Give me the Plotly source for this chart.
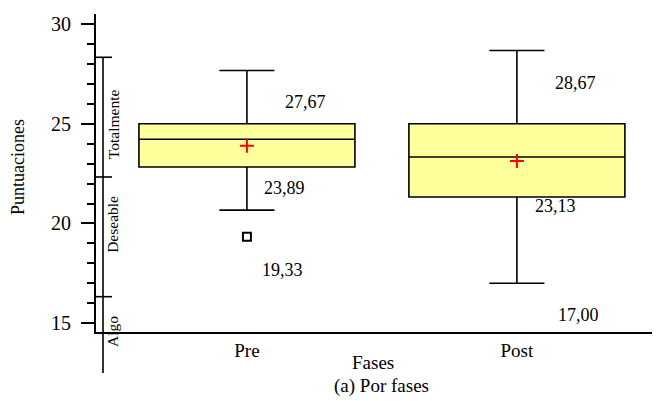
import plotly.graph_objects as go

# ---- data ----
fases = ["Pre", "Post"]
q1 = [22.83, 21.33]
mediana = [24.22, 23.33]
q3 = [25.00, 25.00]
bigote_inf = [20.67, 17.00]
bigote_sup = [27.67, 28.67]
media = [23.89, 23.13]
atipico_fase = ["Pre"]
atipico_valor = [19.33]

escala_nombres = ["Totalmente", "Deseable", "Algo"]
escala_limites = [28.33, 22.33, 16.33, 12.5]

y_ticks = [15, 20, 25, 30]

# ---- layout geometry (page body has an 8px default margin) ----
OFF = 8
W, H = 660 - OFF, 401 - OFF
ML, MR, MT, MB = 96 - OFF, 0, 14 - OFF, 69
YMIN, YMAX = 14.56, 30.50
PLOT_H = H - MT - MB
PLOT_W = W - ML - MR
FONT = "'Liberation Serif', Tinos, 'Times New Roman', 'Nimbus Roman', 'DejaVu Serif', serif"


def ypaper(v):
    return (v - YMIN) / (YMAX - YMIN)


def xpaper(px):
    # px in window coordinates
    return (px - OFF - ML) / PLOT_W


def ypix(py):
    # py in window coordinates -> paper fraction
    return (H - MB - (py - OFF)) / PLOT_H


def fmt(v):
    return f"{v:.2f}".replace(".", ",")


fig = go.Figure()

fig.add_trace(go.Box(
    x=fases, q1=q1, median=mediana, q3=q3,
    lowerfence=bigote_inf, upperfence=bigote_sup,
    width=0.8, whiskerwidth=0.255,
    fillcolor="#FFFF9C", line=dict(color="black", width=1.6),
    boxpoints=False, showlegend=False, hoverinfo="skip",
))

fig.add_trace(go.Scatter(
    x=fases, y=media, mode="markers",
    marker=dict(symbol="cross-thin", size=10, line=dict(color="red", width=2)),
    showlegend=False, hoverinfo="skip",
))

fig.add_trace(go.Scatter(
    x=atipico_fase, y=atipico_valor, mode="markers",
    marker=dict(symbol="square-open", size=8, color="black", line=dict(color="black", width=2)),
    showlegend=False, hoverinfo="skip",
))

# value labels: (x, value, xshift, yshift)
etiquetas = [
    (fases[0], bigote_sup[0], 59, -32),
    (fases[0], media[0], 38, -42),
    (fases[0], atipico_valor[0], 36, -33),
    (fases[1], bigote_sup[1], 59, -32),
    (fases[1], media[1], 39, -45),
    (fases[1], bigote_inf[1], 62, -32),
]
anns = []
for xv, v, dx, dy in etiquetas:
    anns.append(dict(x=xv, y=v, xref="x", yref="y", text=fmt(v), showarrow=False,
                     xanchor="center", yanchor="middle",
                     xshift=dx, yshift=dy, font=dict(family=FONT, size=18, color="black")))

# qualitative scale
SX = xpaper(103)
STICK = xpaper(112)
shapes = [dict(type="line", xref="paper", yref="paper", x0=SX, x1=SX,
               y0=ypaper(escala_limites[0]), y1=ypaper(escala_limites[-1]),
               line=dict(color="black", width=1.6))]
for lim in escala_limites[:3]:
    shapes.append(dict(type="line", xref="paper", yref="paper", x0=xpaper(96), x1=STICK,
                       y0=ypaper(lim), y1=ypaper(lim), line=dict(color="black", width=1.6)))

label_shift = [-7, 12, 3]
for i, nombre in enumerate(escala_nombres):
    mid = (escala_limites[i] + escala_limites[i + 1]) / 2
    anns.append(dict(x=xpaper(113), y=ypaper(mid), xref="paper", yref="paper", text=nombre,
                     showarrow=False, textangle=-90, yshift=label_shift[i],
                     xanchor="center", yanchor="middle",
                     font=dict(family=FONT, size=15.5, color="black")))

anns.append(dict(x=xpaper(18), y=ypix(167), xref="paper", yref="paper",
                 text="Puntuaciones", showarrow=False, textangle=-90,
                 xanchor="center", yanchor="middle",
                 font=dict(family=FONT, size=18, color="black")))
anns.append(dict(x=xpaper(373), y=ypix(362), xref="paper", yref="paper",
                 text="Fases", showarrow=False, xanchor="center", yanchor="middle",
                 font=dict(family=FONT, size=19, color="black")))
anns.append(dict(x=xpaper(381), y=ypix(386), xref="paper", yref="paper",
                 text="(a) Por fases", showarrow=False, xanchor="center", yanchor="middle",
                 font=dict(family=FONT, size=19, color="black")))

fig.update_layout(
    width=W, height=H,
    margin=dict(l=ML, r=MR, t=MT, b=MB, autoexpand=False),
    paper_bgcolor="white", plot_bgcolor="white",
    shapes=shapes, annotations=anns,
    font=dict(family=FONT, size=18, color="black"),
    xaxis=dict(range=[-0.559, 1.530], showgrid=False, zeroline=False,
               showline=True, linecolor="black", linewidth=2, ticks="",
               tickfont=dict(family=FONT, size=19)),
    yaxis=dict(range=[YMIN, YMAX], tickvals=y_ticks, showgrid=False, zeroline=False,
               showline=True, linecolor="black", linewidth=2,
               ticks="outside", ticklen=13, tickwidth=2, tickcolor="black",
               ticklabelstandoff=6,
               minor=dict(dtick=1, ticks="outside", ticklen=7, tickwidth=2, tickcolor="black"),
               tickfont=dict(family=FONT, size=20)),
)

fig.write_html("out.html")
